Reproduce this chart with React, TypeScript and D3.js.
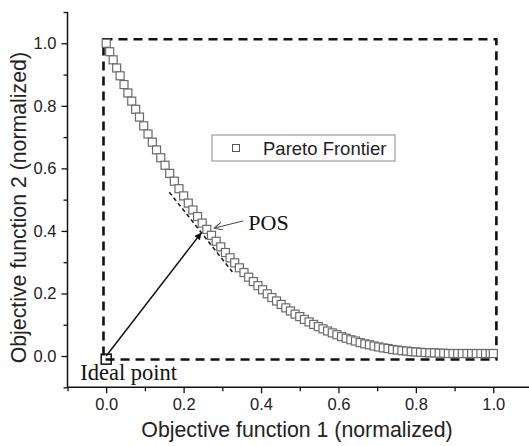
import React, { useEffect, useRef } from 'react';
import * as d3 from 'd3';

// Pareto frontier points
const frontierX = [
  0.000, 0.009, 0.018, 0.027, 0.036, 0.046, 0.056, 0.066, 0.076, 0.086,
  0.097, 0.108, 0.119, 0.130, 0.141, 0.152, 0.164, 0.176, 0.188, 0.200,
  0.212, 0.224, 0.236, 0.248, 0.260, 0.272, 0.284, 0.296, 0.308, 0.320,
  0.332, 0.344, 0.356, 0.368, 0.380, 0.392, 0.404, 0.416, 0.428, 0.440,
  0.452, 0.464, 0.476, 0.488, 0.500, 0.512, 0.524, 0.536, 0.548, 0.560,
  0.572, 0.584, 0.596, 0.608, 0.620, 0.632, 0.644, 0.656, 0.668, 0.680,
  0.692, 0.704, 0.716, 0.728, 0.740, 0.752, 0.764, 0.776, 0.788, 0.800,
  0.812, 0.824, 0.836, 0.848, 0.860, 0.872, 0.884, 0.896, 0.908, 0.920,
  0.932, 0.944, 0.956, 0.968, 0.980, 0.992, 1.000,
];
const frontierY = [
  1.000, 0.973, 0.947, 0.921, 0.896, 0.868, 0.841, 0.815, 0.789, 0.764,
  0.736, 0.710, 0.684, 0.659, 0.634, 0.610, 0.584, 0.559, 0.535, 0.512,
  0.489, 0.467, 0.446, 0.425, 0.405, 0.386, 0.367, 0.349, 0.331, 0.314,
  0.298, 0.282, 0.267, 0.252, 0.238, 0.225, 0.212, 0.199, 0.187, 0.176,
  0.165, 0.154, 0.144, 0.134, 0.126, 0.117, 0.109, 0.101, 0.094, 0.087,
  0.080, 0.074, 0.068, 0.062, 0.057, 0.052, 0.048, 0.043, 0.039, 0.036,
  0.032, 0.029, 0.026, 0.024, 0.021, 0.019, 0.017, 0.016, 0.014, 0.013,
  0.012, 0.011, 0.010, 0.010, 0.009, 0.009, 0.008, 0.008, 0.008, 0.008,
  0.008, 0.008, 0.008, 0.008, 0.008, 0.008, 0.008,
];

const xMajor = [0, 0.2, 0.4, 0.6, 0.8, 1.0];
const yMajor = [0, 0.2, 0.4, 0.6, 0.8, 1.0];
const minorTicks = [-0.1, 0.1, 0.3, 0.5, 0.7, 0.9, 1.1];

// dashed bounding box (ideal -> nadir)
const boxX = [-0.007, 1.008];
const boxY = [-0.011, 1.013];
const idealPoint = [0, -0.01];
const arrowStart = [0, 0];
const arrowEnd = [0.245, 0.393];
const tangentStart = [0.163, 0.524];
const tangentEnd = [0.326, 0.269];
const posArrowStart = [0.354, 0.432];
const posArrowEnd = [0.279, 0.409];
const posLabel = { text: 'POS', x: 0.367, y: 0.403 };
const idealLabel = { text: 'Ideal point', x: -0.067, y: -0.077 };
const legendLabel = 'Pareto Frontier';

export default function App() {
  const svgRef = useRef<SVGSVGElement>(null);
  const width = 529;
  const height = 446;

  useEffect(() => {
    document.body.style.margin = '0';
    if (!svgRef.current) return;
    const svg = d3.select(svgRef.current);
    svg.selectAll('*').remove();

    const x = d3.scaleLinear().domain([-0.1, 1.1]).range([67.5, 532]);
    const y = d3.scaleLinear().domain([-0.1, 1.1]).range([387.3, 12]);

    const defs = svg.append('defs');
    defs.append('marker')
      .attr('id', 'solidHead')
      .attr('viewBox', '0 0 10 10')
      .attr('refX', 9).attr('refY', 5)
      .attr('markerWidth', 9).attr('markerHeight', 7)
      .attr('markerUnits', 'userSpaceOnUse')
      .attr('orient', 'auto')
      .append('path').attr('d', 'M0,0 L10,5 L0,10 z').attr('fill', '#111');
    defs.append('marker')
      .attr('id', 'openHead')
      .attr('viewBox', '0 0 10 10')
      .attr('refX', 10).attr('refY', 5)
      .attr('markerWidth', 10).attr('markerHeight', 8)
      .attr('markerUnits', 'userSpaceOnUse')
      .attr('orient', 'auto')
      .append('path').attr('d', 'M0,0 L10,5 L0,10').attr('fill', 'none')
      .attr('stroke', '#444').attr('stroke-width', 1.2);

    // axes
    const xAxis = svg.append('g').attr('transform', `translate(0,${y(-0.1)})`)
      .call(d3.axisBottom(x).tickValues(xMajor).tickSize(6).tickPadding(5).tickFormat(d3.format('.1f')));
    svg.append('g').attr('transform', `translate(0,${y(-0.1)})`)
      .call(d3.axisBottom(x).tickValues(minorTicks).tickSize(4).tickFormat(() => ''))
      .call(g => g.select('.domain').remove());
    const yAxis = svg.append('g').attr('transform', `translate(${x(-0.1)},0)`)
      .call(d3.axisLeft(y).tickValues(yMajor).tickSize(6).tickPadding(5).tickFormat(d3.format('.1f')));
    svg.append('g').attr('transform', `translate(${x(-0.1)},0)`)
      .call(d3.axisLeft(y).tickValues(minorTicks).tickSize(4).tickFormat(() => ''))
      .call(g => g.select('.domain').remove());

    svg.selectAll('.domain').attr('stroke', '#111').attr('stroke-width', 1.5);
    svg.selectAll('.tick line').attr('stroke', '#111').attr('stroke-width', 1.3);
    [xAxis, yAxis].forEach(a => {
      a.selectAll('.tick text')
        .attr('font-family', 'Liberation Sans, Arial, sans-serif')
        .attr('font-size', 16.5)
        .attr('fill', '#222');
    });
    // plain domain lines without outer ticks
    xAxis.select('.domain').attr('d', `M${x(-0.1)},0H${x(1.1)}`);
    yAxis.select('.domain').attr('d', `M0,${y(-0.1)}V${y(1.1)}`);

    svg.append('text')
      .attr('x', 297).attr('y', 437)
      .attr('text-anchor', 'middle')
      .attr('font-family', 'Liberation Sans, Arial, sans-serif')
      .attr('font-size', 21.3).attr('fill', '#222')
      .text('Objective function 1 (normalized)');
    svg.append('text')
      .attr('transform', `translate(26,${(y(-0.1) + y(1.1)) / 2 + 8}) rotate(-90)`)
      .attr('text-anchor', 'middle')
      .attr('font-family', 'Liberation Sans, Arial, sans-serif')
      .attr('font-size', 21.3).attr('fill', '#222')
      .text('Objective function 2 (normalized)');

    // dashed bounding box
    svg.append('rect')
      .attr('x', x(boxX[0])).attr('y', y(boxY[1]))
      .attr('width', x(boxX[1]) - x(boxX[0]))
      .attr('height', y(boxY[0]) - y(boxY[1]))
      .attr('fill', 'none').attr('stroke', '#111')
      .attr('stroke-width', 2.6).attr('stroke-dasharray', '9,6');

    // tangent dashed line
    svg.append('line')
      .attr('x1', x(tangentStart[0])).attr('y1', y(tangentStart[1]))
      .attr('x2', x(tangentEnd[0])).attr('y2', y(tangentEnd[1]))
      .attr('stroke', '#222').attr('stroke-width', 1.6).attr('stroke-dasharray', '4,3');

    // frontier squares
    const s = 8;
    svg.append('g').selectAll('rect')
      .data(frontierX.map((d, i) => [d, frontierY[i]]))
      .enter().append('rect')
      .attr('x', d => x(d[0]) - s / 2).attr('y', d => y(d[1]) - s / 2)
      .attr('width', s).attr('height', s)
      .attr('fill', 'white').attr('stroke', '#6a6a6a').attr('stroke-width', 1.2);

    // ideal point
    svg.append('rect')
      .attr('x', x(idealPoint[0]) - 5).attr('y', y(idealPoint[1]) - 5)
      .attr('width', 10).attr('height', 10)
      .attr('fill', 'none').attr('stroke', '#111').attr('stroke-width', 1.5);

    // arrows
    svg.append('line')
      .attr('x1', x(arrowStart[0])).attr('y1', y(arrowStart[1]))
      .attr('x2', x(arrowEnd[0])).attr('y2', y(arrowEnd[1]))
      .attr('stroke', '#111').attr('stroke-width', 1.5)
      .attr('marker-end', 'url(#solidHead)');
    svg.append('line')
      .attr('x1', x(posArrowStart[0])).attr('y1', y(posArrowStart[1]))
      .attr('x2', x(posArrowEnd[0])).attr('y2', y(posArrowEnd[1]))
      .attr('stroke', '#444').attr('stroke-width', 1)
      .attr('marker-end', 'url(#openHead)');

    // labels
    svg.append('text')
      .attr('x', x(posLabel.x)).attr('y', y(posLabel.y))
      .attr('font-family', 'Liberation Serif, Times New Roman, serif')
      .attr('font-size', 22).attr('fill', '#111')
      .text(posLabel.text);
    svg.append('text')
      .attr('x', x(idealLabel.x)).attr('y', y(idealLabel.y))
      .attr('font-family', 'Liberation Serif, Times New Roman, serif')
      .attr('font-size', 22.5).attr('fill', '#111')
      .text(idealLabel.text);

    // legend
    const lg = svg.append('g').attr('transform', 'translate(212,135)');
    lg.append('rect').attr('width', 183).attr('height', 26)
      .attr('fill', 'white').attr('stroke', '#888').attr('stroke-width', 1);
    lg.append('rect').attr('x', 20.5).attr('y', 9.5).attr('width', 7).attr('height', 7)
      .attr('fill', 'white').attr('stroke', '#555').attr('stroke-width', 1);
    lg.append('text').attr('x', 51).attr('y', 19.5)
      .attr('font-family', 'Liberation Sans, Arial, sans-serif')
      .attr('font-size', 18.5).attr('fill', '#222')
      .text(legendLabel);
  }, []);

  return <svg ref={svgRef} width={width} height={height} style={{ display: 'block', background: 'white' }} />;
}
